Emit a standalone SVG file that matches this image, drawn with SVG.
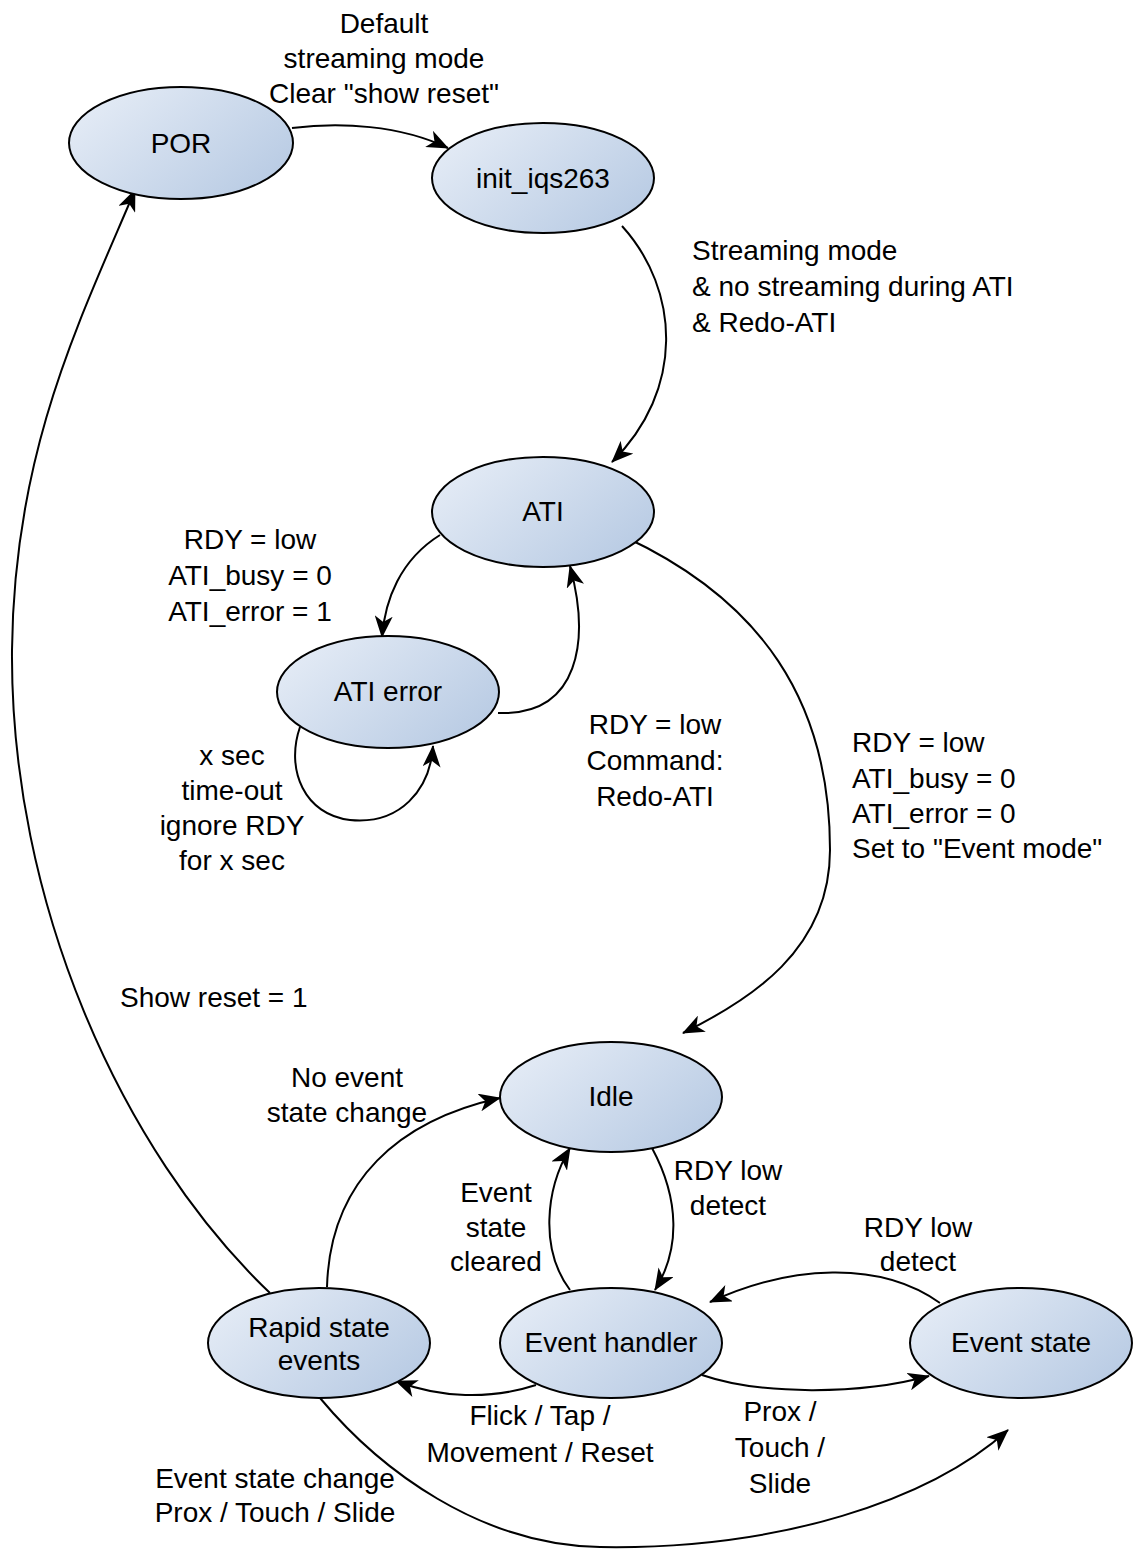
<svg xmlns="http://www.w3.org/2000/svg" width="1135" height="1550" viewBox="0 0 1135 1550">
<style>
.node{fill:url(#g);stroke:#000;stroke-width:2}
.t{font-family:"Liberation Sans",Arial,sans-serif;font-size:28px;fill:#000}
.c{text-anchor:middle}
.e{fill:none;stroke:#000;stroke-width:2;marker-end:url(#a)}
</style>
<defs>
<linearGradient id="g" x1="0" y1="0.2" x2="1" y2="0.8">
<stop offset="0" stop-color="#e5ecf6"/>
<stop offset="1" stop-color="#b7cae3"/>
</linearGradient>
<marker id="a" viewBox="0 0 22 18" refX="21" refY="9" markerWidth="22" markerHeight="18" markerUnits="userSpaceOnUse" orient="auto">
<path d="M0,0 L22,9 L0,18 L6,9 z" fill="#000"/>
</marker>
</defs>
<rect width="1135" height="1550" fill="#fff"/>
<g id="connectors">
<path class="e" d="M 292 128 C 340 122, 400 125, 448 148"/>
<path class="e" d="M 622 226 C 680 290, 685 390, 612 462"/>
<path class="e" d="M 440 535 C 400 560, 385 600, 382 637"/>
<path class="e" d="M 498 713 C 580 716, 590 640, 570 566"/>
<path class="e" d="M 300 727 C 285 770, 305 815, 350 820 C 400 825, 430 790, 433 746"/>
<path class="e" d="M 625 537 C 760 600, 830 700, 830 850 C 830 950, 750 1000, 683 1033"/>
<path class="e" d="M 270 1293 C 120 1150, 10 900, 12 650 C 14 450, 80 320, 135 190"/>
<path class="e" d="M 327 1287 C 330 1180, 400 1120, 500 1098"/>
<path class="e" d="M 570 1290 C 540 1250, 545 1190, 570 1148"/>
<path class="e" d="M 652 1148 C 680 1200, 680 1250, 655 1290"/>
<path class="e" d="M 940 1303 C 880 1260, 790 1265, 710 1302"/>
<path class="e" d="M 536 1385 C 490 1400, 440 1398, 396 1381"/>
<path class="e" d="M 702 1375 C 760 1395, 860 1395, 929 1376"/>
<path class="e" d="M 320 1398 C 380 1470, 480 1545, 600 1547 C 780 1550, 930 1500, 1008 1430"/>
</g>
<g id="labels">
<text class="t c" x="384" y="33">Default</text>
<text class="t c" x="384" y="68">streaming mode</text>
<text class="t c" x="384" y="103">Clear "show reset"</text>
<text class="t" x="692" y="260">Streaming mode</text>
<text class="t" x="692" y="296">&amp; no streaming during ATI</text>
<text class="t" x="692" y="332">&amp; Redo-ATI</text>
<text class="t c" x="250" y="549">RDY = low</text>
<text class="t c" x="250" y="585">ATI_busy = 0</text>
<text class="t c" x="250" y="621">ATI_error = 1</text>
<text class="t c" x="232" y="765">x sec</text>
<text class="t c" x="232" y="800">time-out</text>
<text class="t c" x="232" y="835">ignore RDY</text>
<text class="t c" x="232" y="870">for x sec</text>
<text class="t c" x="655" y="734">RDY = low</text>
<text class="t c" x="655" y="770">Command:</text>
<text class="t c" x="655" y="806">Redo-ATI</text>
<text class="t" x="852" y="752">RDY = low</text>
<text class="t" x="852" y="788">ATI_busy = 0</text>
<text class="t" x="852" y="823">ATI_error = 0</text>
<text class="t" x="852" y="858">Set to "Event mode"</text>
<text class="t" x="120" y="1007">Show reset = 1</text>
<text class="t c" x="347" y="1087">No event</text>
<text class="t c" x="347" y="1122">state change</text>
<text class="t c" x="496" y="1202">Event</text>
<text class="t c" x="496" y="1237">state</text>
<text class="t c" x="496" y="1271">cleared</text>
<text class="t c" x="728" y="1180">RDY low</text>
<text class="t c" x="728" y="1215">detect</text>
<text class="t c" x="918" y="1237">RDY low</text>
<text class="t c" x="918" y="1271">detect</text>
<text class="t c" x="540" y="1425">Flick / Tap /</text>
<text class="t c" x="540" y="1462">Movement / Reset</text>
<text class="t c" x="780" y="1421">Prox /</text>
<text class="t c" x="780" y="1457">Touch /</text>
<text class="t c" x="780" y="1493">Slide</text>
<text class="t c" x="275" y="1488">Event state change</text>
<text class="t c" x="275" y="1522">Prox / Touch / Slide</text>
</g>
<g id="POR"><ellipse class="node" cx="181" cy="143" rx="112" ry="56"/><text class="t c" x="181" y="153">POR</text></g>
<g id="init_iqs263"><ellipse class="node" cx="543" cy="178" rx="111" ry="55"/><text class="t c" x="543" y="188">init_iqs263</text></g>
<g id="ATI"><ellipse class="node" cx="543" cy="512" rx="111" ry="55"/><text class="t c" x="543" y="521">ATI</text></g>
<g id="ATI_error"><ellipse class="node" cx="388" cy="692" rx="111" ry="56"/><text class="t c" x="388" y="701">ATI error</text></g>
<g id="Idle"><ellipse class="node" cx="611" cy="1097" rx="111" ry="55"/><text class="t c" x="611" y="1106">Idle</text></g>
<g id="Rapid_state_events"><ellipse class="node" cx="319" cy="1343" rx="111" ry="55"/><text class="t c" x="319" y="1337">Rapid state</text><text class="t c" x="319" y="1370">events</text></g>
<g id="Event_handler"><ellipse class="node" cx="611" cy="1343" rx="111" ry="55"/><text class="t c" x="611" y="1352">Event handler</text></g>
<g id="Event_state"><ellipse class="node" cx="1021" cy="1343" rx="111" ry="55"/><text class="t c" x="1021" y="1352">Event state</text></g>
</svg>
